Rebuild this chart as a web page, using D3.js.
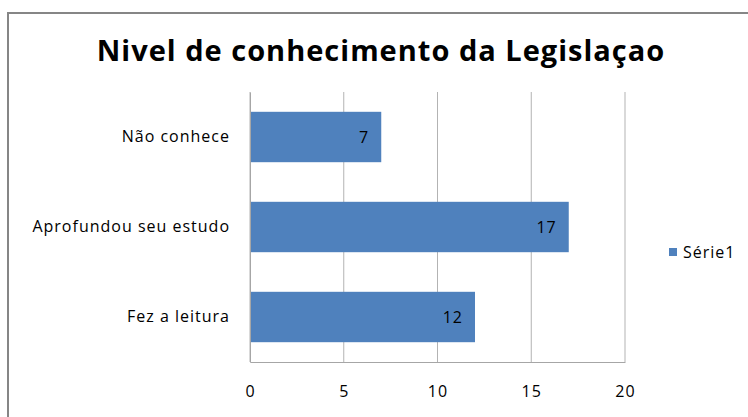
<!DOCTYPE html>
<html>
<head>
<meta charset="utf-8">
<script src="https://cdn.jsdelivr.net/npm/d3@7"></script>
<style>
  body { margin: 0; background: #fff; }
  text { font-family: "Open Sans", "Noto Sans", sans-serif; }
</style>
</head>
<body>
<div id="chart"></div>
<script>
var categories = ["Não conhece", "Aprofundou seu estudo", "Fez a leitura"];
var values = [7, 17, 12];
var ticks = [0, 5, 10, 15, 20];
var seriesName = "Série1";
var title = "Nivel de conhecimento da Legislaçao";

var svg = d3.select("#chart").append("svg")
  .attr("width", 748)
  .attr("height", 417);

// chart border (runs off the right/bottom edge)
svg.append("rect")
  .attr("x", 8).attr("y", 13)
  .attr("width", 760).attr("height", 430)
  .attr("fill", "none")
  .attr("stroke", "#868686")
  .attr("stroke-width", 2);

svg.append("text")
  .attr("x", 381)
  .attr("y", 61)
  .attr("text-anchor", "middle")
  .attr("font-size", 29)
  .attr("font-weight", "bold")
  .attr("letter-spacing", 1)
  .attr("fill", "#000")
  .text(title);

var margin = {top: 92, left: 250};
var width = 375, height = 270;
var g = svg.append("g").attr("transform", "translate(" + margin.left + "," + margin.top + ")");

var x = d3.scaleLinear().domain([0, 20]).range([0, width]);
var y = d3.scaleBand().domain(categories).range([0, height]).paddingInner(0.44).paddingOuter(0.22);

// gridlines
g.selectAll(".grid")
  .data(ticks)
  .enter().append("line")
  .attr("x1", d => x(d)).attr("x2", d => x(d))
  .attr("y1", 0).attr("y2", height)
  .attr("stroke", "#b3b3b3")
  .attr("stroke-width", 1);

g.selectAll(".bar")
  .data(values)
  .enter().append("rect")
  .attr("x", 0)
  .attr("y", (d, i) => y(categories[i]))
  .attr("width", d => x(d))
  .attr("height", y.bandwidth())
  .attr("fill", "#4f81bd");

g.selectAll(".lbl")
  .data(values)
  .enter().append("text")
  .attr("x", d => x(d) - 12)
  .attr("y", (d, i) => y(categories[i]) + y.bandwidth() / 2 + 6)
  .attr("text-anchor", "end")
  .attr("font-size", 16)
  .attr("letter-spacing", 1)
  .attr("fill", "#000")
  .text(d => d);

// axes
var xAxis = d3.axisBottom(x).tickValues(ticks).tickSize(0).tickPadding(24);
var gx = g.append("g")
  .attr("transform", "translate(0," + height + ")")
  .call(xAxis);
gx.select(".domain").attr("stroke", "#a6a6a6");
gx.selectAll("text").attr("font-size", 16).attr("letter-spacing", 1).attr("fill", "#000");

var yAxis = d3.axisLeft(y).tickSize(0).tickPadding(20);
var gy = g.append("g").call(yAxis);
gy.select(".domain").attr("stroke", "#a6a6a6");
gy.selectAll("text").attr("font-size", 16).attr("letter-spacing", 1).attr("fill", "#000");

// legend
var leg = svg.append("g").attr("transform", "translate(669,248)");
leg.append("rect").attr("width", 8).attr("height", 8).attr("fill", "#4f81bd");
leg.append("text").attr("x", 14).attr("y", 10).attr("font-size", 16).attr("letter-spacing", 1).attr("fill", "#000").text(seriesName);
</script>
</body>
</html>
